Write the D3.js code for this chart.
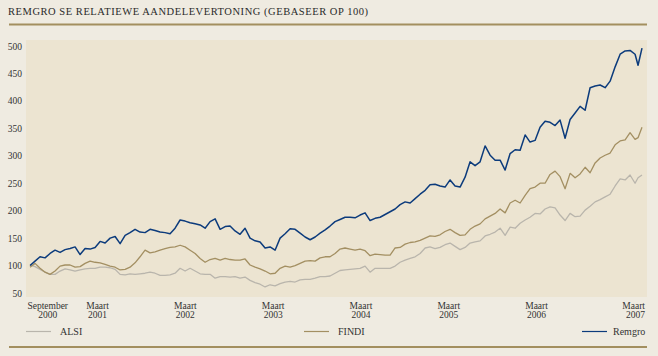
<!DOCTYPE html>
<html><head><meta charset="utf-8">
<script src="https://cdn.jsdelivr.net/npm/d3@7"></script>
<style>
html,body{margin:0;padding:0;background:#efebe1;}
svg{display:block;}
</style></head>
<body><svg id="c" width="658" height="356"></svg>
<script>
const title = "REMGRO SE RELATIEWE AANDELEVERTONING (GEBASEER OP 100)";
const seriesNames = ["ALSI", "FINDI", "Remgro"];
const seriesColors = ["#b9b5ac", "#a38f62", "#0c3b7c"];
const yTicks = [50,100,150,200,250,300,350,400,450,500];
const xTickLabels = [["September","2000"],["Maart","2001"],["Maart","2002"],["Maart","2003"],["Maart","2004"],["Maart","2005"],["Maart","2006"],["Maart","2007"]];
const xTickDates = [2000.67, 2001.16, 2002.16, 2003.16, 2004.16, 2005.16, 2006.16, 2007.16];

// dates as decimal years
const dates = [
2000.391,2000.448,2000.505,2000.562,2000.619,2000.676,2000.733,2000.790,2000.847,2000.904,
2000.961,2001.018,2001.075,2001.132,2001.189,2001.246,2001.303,2001.360,2001.417,2001.474,
2001.530,2001.587,2001.644,2001.701,2001.758,2001.815,2001.872,2001.929,2001.986,2002.043,
2002.100,2002.157,2002.214,2002.271,2002.328,2002.385,2002.442,2002.499,2002.556,2002.613,
2002.669,2002.726,2002.783,2002.840,2002.897,2002.954,2003.011,2003.068,2003.125,2003.182,
2003.239,2003.296,2003.353,2003.410,2003.467,2003.524,2003.581,2003.638,2003.695,2003.752,
2003.808,2003.865,2003.922,2003.979,2004.036,2004.093,2004.150,2004.207,2004.264,2004.321,
2004.378,2004.435,2004.492,2004.549,2004.606,2004.663,2004.720,2004.777,2004.834,2004.891,
2004.947,2005.004,2005.061,2005.118,2005.175,2005.232,2005.289,2005.346,2005.403,2005.460,
2005.517,2005.574,2005.631,2005.688,2005.745,2005.802,2005.859,2005.916,2005.973,2006.030,
2006.086,2006.143,2006.200,2006.257,2006.314,2006.371,2006.428,2006.485,2006.542,2006.599,
2006.656,2006.713,2006.770,2006.827,2006.884,2006.941,2006.998,2007.055,2007.112,2007.169,
2007.225,2007.282,2007.316,2007.361];

const alsi = [
101,98,93,88,84,84,90,94,92,90,
92,94,95,95,97,97,96,93,84,83,
85,84,85,86,88,86,82,82,83,86,
95,90,95,90,85,84,84,77,80,80,
79,80,77,79,73,69,66,61,65,63,
67,70,71,70,74,75,75,77,80,80,
81,86,91,92,93,94,95,99,88,95,
95,95,95,99,106,110,113,116,122,132,
134,131,133,138,141,135,129,133,141,143,
145,154,157,161,168,155,170,168,177,183,
188,195,194,203,207,205,192,182,195,189,
190,201,208,216,220,225,230,245,258,256,
265,250,260,265];

const findi = [
97,104,95,88,84,90,99,101,101,97,
98,104,108,106,105,102,99,97,92,93,
97,105,116,128,123,125,128,131,133,134,
137,134,128,122,113,106,111,113,110,113,
111,110,110,112,101,97,94,90,85,86,
95,99,97,100,104,108,109,108,114,116,
116,122,130,132,130,128,130,127,118,121,
120,119,119,132,133,139,142,143,146,150,
154,153,156,162,166,160,155,156,166,172,
176,185,190,195,203,196,214,219,214,228,
240,243,250,250,266,272,262,240,268,260,
267,279,269,287,296,301,305,320,327,329,
342,330,333,352];

const remgro = [
100,108,116,114,122,128,124,129,131,134,
120,131,130,133,144,141,150,153,140,155,
160,166,161,160,166,164,161,160,158,168,
183,181,178,176,174,168,180,185,166,171,
172,163,157,168,150,145,143,132,134,128,
150,158,167,166,159,152,147,152,159,165,
172,180,184,188,188,187,192,196,182,186,
188,193,198,203,211,216,214,222,230,237,
247,248,245,243,256,245,243,261,289,282,
289,318,301,292,292,274,304,311,310,338,
325,328,352,363,361,355,365,332,366,378,
390,383,424,427,429,424,436,462,485,491,
492,485,465,496];

const svg = d3.select("#c");
const fontFam = "'Liberation Serif', 'DejaVu Serif', serif";
const plot = {left:26, right:647, top:40, bottom:297};

// title
svg.append("text").attr("x",8).attr("y",15)
  .attr("font-family",fontFam).attr("font-size",10.5).attr("fill","#2a2a2a")
  .attr("textLength",360).attr("lengthAdjust","spacing")
  .text(title);
svg.append("rect").attr("x",9).attr("y",23.5).attr("width",638).attr("height",2).attr("fill","#a38f5f");
svg.append("rect").attr("x",9).attr("y",346).attr("width",638).attr("height",2).attr("fill","#a38f5f");

// plot bg
svg.append("rect").attr("x",plot.left).attr("y",plot.top)
  .attr("width",plot.right-plot.left).attr("height",plot.bottom-plot.top).attr("fill","#ece4d1");

const x = d3.scaleLinear().domain([2000.345, 2007.418]).range([plot.left, plot.right]);
const y = d3.scaleLinear().domain([50,500]).range([293,46]);

// y labels
const yAxis = d3.axisLeft(y).tickValues(yTicks).tickSize(0).tickPadding(0);
const gy = svg.append("g").attr("transform","translate(22,0)").call(yAxis);
gy.select(".domain").remove();
gy.selectAll("text").attr("font-family",fontFam).attr("font-size",9.5).attr("fill","#333").attr("dy","0.32em");

// x labels
const gx = svg.append("g");
xTickLabels.forEach((lab,i)=>{
  const t = gx.append("text").attr("font-family",fontFam).attr("font-size",9.5).attr("fill","#333");
  let xp = x(xTickDates[i]), anchor = "middle";
  if(i===xTickLabels.length-1){ xp = plot.right-2; anchor="end"; }
  t.attr("text-anchor",anchor);
  t.append("tspan").attr("x",xp).attr("y",309).text(lab[0]);
  t.append("tspan").attr("x",xp).attr("y",318).text(lab[1]);
  if(i===0){
    const w = t.node().getBBox().width;
    t.selectAll("tspan").attr("x", plot.left+1+w/2);
  }
});

// lines
const allSeries = [alsi, findi, remgro];
const widths = [1.3, 1.3, 1.5];
const line = d3.line().x((d,i)=>x(dates[i])).y(d=>y(d)).curve(d3.curveLinear);
allSeries.forEach((s,k)=>{
  svg.append("path").datum(s).attr("d",line).attr("fill","none")
    .attr("stroke",seriesColors[k]).attr("stroke-width",widths[k]).attr("stroke-linejoin","round");
});

// legend
const legendPos = [26, 304, 582];
seriesNames.forEach((n,k)=>{
  svg.append("line").attr("x1",legendPos[k]).attr("x2",legendPos[k]+25).attr("y1",331.5).attr("y2",331.5)
    .attr("stroke",seriesColors[k]).attr("stroke-width",1.2);
  svg.append("text").attr("x",legendPos[k]+(k===2?31:34)).attr("y",334.5)
    .attr("font-family",fontFam).attr("font-size",10).attr("fill","#333").text(n);
});
</script></body></html>
